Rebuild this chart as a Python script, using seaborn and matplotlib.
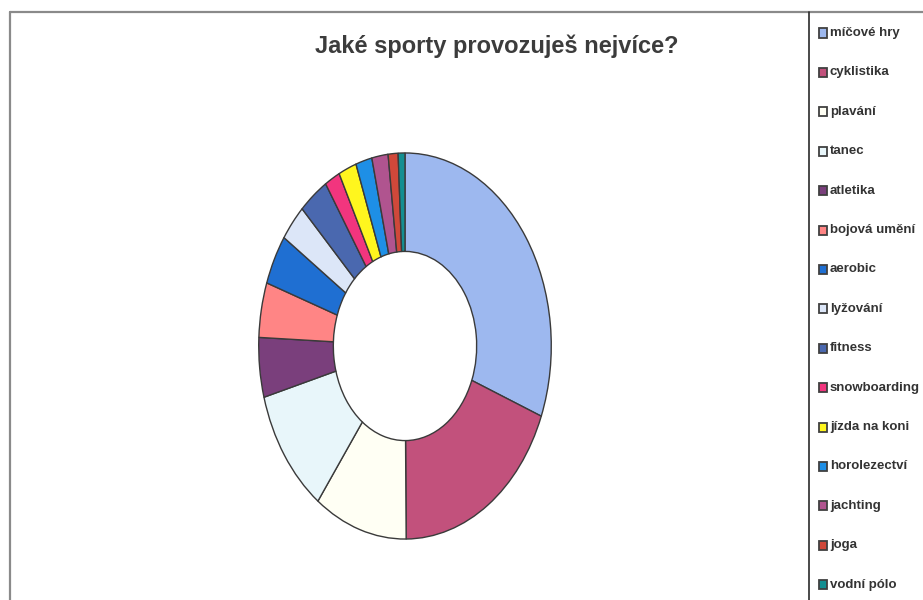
import matplotlib
matplotlib.use("Agg")
import matplotlib.pyplot as plt
from matplotlib.patches import Rectangle
from matplotlib.lines import Line2D
import seaborn as sns

categories = ["míčové hry", "cyklistika", "plavání", "tanec", "atletika",
              "bojová umění", "aerobic", "lyžování", "fitness", "snowboarding",
              "jízda na koni", "horolezectví", "jachting", "joga", "vodní pólo"]
values = [31.0, 19.0, 10.3, 10.6, 5.0, 4.6, 4.2, 3.1, 3.3, 1.7, 2.0, 1.8, 1.8, 1.1, 0.75]
colors = ["#9DB8EF", "#C2517C", "#FFFFF4", "#E8F6FA", "#7A3F7C", "#FF8585",
          "#1F6FD2", "#DCE6F8", "#4A68AF", "#F2357E", "#FFF61E", "#1E8FE6",
          "#B0548F", "#D0483A", "#138F92"]
title = "Jaké sporty provozuješ nejvíce?"

sns.set_theme(style="white")
plt.rcParams["font.family"] = ["Liberation Sans Narrow", "Liberation Sans", "DejaVu Sans"]

W, H = 923, 600
fig = plt.figure(figsize=(W / 100, H / 100), dpi=100)
fig.patch.set_facecolor("white")

# donut axes: ellipse spans x 258-552, y 152-540 (pixels)
ax = fig.add_axes([258 / W, 1 - 540 / H, 294 / W, 388 / H])
pal = sns.color_palette(colors)
wedges, _ = ax.pie(values, colors=pal, startangle=90, counterclock=False,
                   radius=1.0,
                   wedgeprops=dict(width=0.51, edgecolor="#3a3a3a", linewidth=1.0))
ax.set_aspect("auto")
ax.set_xlim(-1.005, 1.005)
ax.set_ylim(-1.005, 1.005)
ax.axis("off")

# frame lines
fig.add_artist(Line2D([10 / W, 1], [1 - 12 / H, 1 - 12 / H], transform=fig.transFigure,
                      color="#8a8a8a", lw=1.6))
fig.add_artist(Line2D([10 / W, 10 / W], [0, 1 - 12 / H], transform=fig.transFigure,
                      color="#8a8a8a", lw=1.6))
fig.add_artist(Line2D([809 / W, 809 / W], [0, 1 - 12 / H], transform=fig.transFigure,
                      color="#2a2a2a", lw=1.2))

fig.text(497 / W, 1 - 46 / H, title, ha="center", va="center",
         fontsize=17, fontweight="bold", color="#3c3c3c")

# legend
for i, (lab, col) in enumerate(zip(categories, pal)):
    yc = 33 + i * 39.4
    fig.add_artist(Rectangle((819 / W, 1 - (yc + 4.5) / H), 8 / W, 9 / H,
                             transform=fig.transFigure, facecolor=col,
                             edgecolor="#404040", lw=1.3))
    fig.text(830 / W, 1 - yc / H, lab, ha="left", va="center",
             fontsize=9.5, fontweight="bold", color="#333333")

fig.savefig("out.png", dpi=100)
